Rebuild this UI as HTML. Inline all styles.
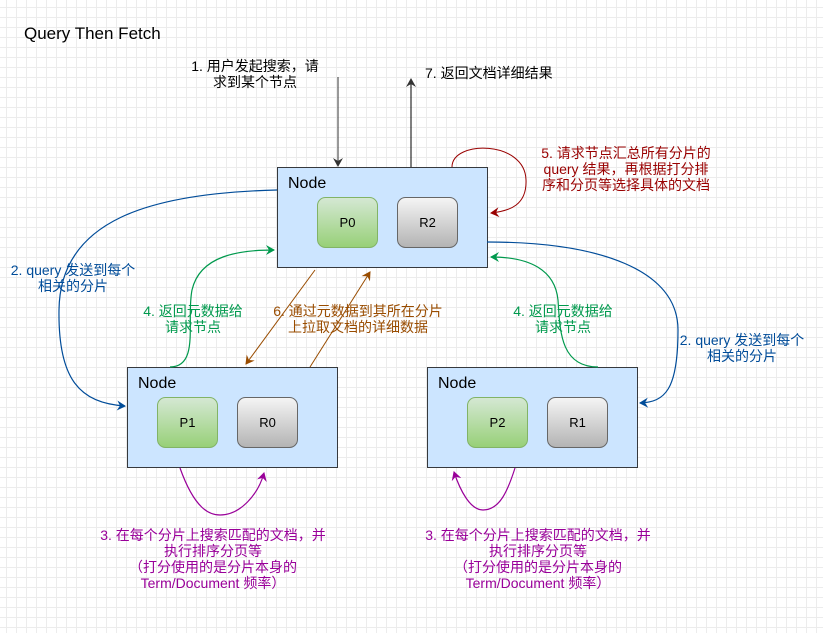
<!DOCTYPE html>
<html><head><meta charset="utf-8"><style>
body{margin:0;width:823px;height:633px;overflow:hidden;background:#fff;
background-image:linear-gradient(#ececec 1px,transparent 1px),linear-gradient(90deg,#ececec 1px,transparent 1px);
background-size:10px 10px;background-position:-4px -3px;}
svg{position:absolute;left:0;top:0}
text{font-family:"Liberation Sans","Noto Sans CJK SC",sans-serif;}
</style></head><body>
<svg width="823" height="633" viewBox="0 0 823 633">
<defs>
<linearGradient id="g" x1="0" y1="0" x2="0" y2="1"><stop offset="0" stop-color="#d5e8d4"/><stop offset="1" stop-color="#97d077"/></linearGradient>
<linearGradient id="s" x1="0" y1="0" x2="0" y2="1"><stop offset="0" stop-color="#f5f5f5"/><stop offset="1" stop-color="#b3b3b3"/></linearGradient>
<marker id="ak" markerWidth="10" markerHeight="10" refX="8" refY="5" orient="auto" markerUnits="userSpaceOnUse"><path d="M0,0 L9,5 L0,10 L3,5z" fill="#333"/></marker>
<marker id="ab" markerWidth="10" markerHeight="10" refX="8" refY="5" orient="auto" markerUnits="userSpaceOnUse"><path d="M0,0 L9,5 L0,10 L3,5z" fill="#004c99"/></marker>
<marker id="ag" markerWidth="10" markerHeight="10" refX="8" refY="5" orient="auto" markerUnits="userSpaceOnUse"><path d="M0,0 L9,5 L0,10 L3,5z" fill="#00994d"/></marker>
<marker id="ar" markerWidth="10" markerHeight="10" refX="8" refY="5" orient="auto" markerUnits="userSpaceOnUse"><path d="M0,0 L9,5 L0,10 L3,5z" fill="#990000"/></marker>
<marker id="ao" markerWidth="10" markerHeight="10" refX="8" refY="5" orient="auto" markerUnits="userSpaceOnUse"><path d="M0,0 L9,5 L0,10 L3,5z" fill="#994c00"/></marker>
<marker id="ap" markerWidth="10" markerHeight="10" refX="8" refY="5" orient="auto" markerUnits="userSpaceOnUse"><path d="M0,0 L9,5 L0,10 L3,5z" fill="#990099"/></marker>
</defs>
<text x="24" y="39" font-size="17" fill="#000">Query Then Fetch</text>

<rect x="277.5" y="167.5" width="210" height="100" fill="#cce5ff" stroke="#36393d"/>
<text x="288" y="188" font-size="16">Node</text>
<rect x="317.5" y="197.5" width="60" height="50" rx="8" fill="url(#g)" stroke="#82b366"/>
<text x="347.5" y="227" font-size="13" text-anchor="middle">P0</text>
<rect x="397.5" y="197.5" width="60" height="50" rx="8" fill="url(#s)" stroke="#666"/>
<text x="427.5" y="227" font-size="13" text-anchor="middle">R2</text>

<rect x="127.5" y="367.5" width="210" height="100" fill="#cce5ff" stroke="#36393d"/>
<text x="138" y="388" font-size="16">Node</text>
<rect x="157.5" y="397.5" width="60" height="50" rx="8" fill="url(#g)" stroke="#82b366"/>
<text x="187.5" y="427" font-size="13" text-anchor="middle">P1</text>
<rect x="237.5" y="397.5" width="60" height="50" rx="8" fill="url(#s)" stroke="#666"/>
<text x="267.5" y="427" font-size="13" text-anchor="middle">R0</text>

<rect x="427.5" y="367.5" width="210" height="100" fill="#cce5ff" stroke="#36393d"/>
<text x="438" y="388" font-size="16">Node</text>
<rect x="467.5" y="397.5" width="60" height="50" rx="8" fill="url(#g)" stroke="#82b366"/>
<text x="497.5" y="427" font-size="13" text-anchor="middle">P2</text>
<rect x="547.5" y="397.5" width="60" height="50" rx="8" fill="url(#s)" stroke="#666"/>
<text x="577.5" y="427" font-size="13" text-anchor="middle">R1</text>

<line x1="338" y1="77" x2="338" y2="166" stroke="#333" marker-end="url(#ak)"/>
<line x1="411" y1="167" x2="411" y2="79" stroke="#000" marker-end="url(#ak)"/>
<text font-size="14" text-anchor="middle" fill="#000"><tspan x="255" y="71">1. 用户发起搜索，请</tspan><tspan x="255" y="87">求到某个节点</tspan></text>
<text x="425" y="78" font-size="14">7. 返回文档详细结果</text>

<path d="M452,167 C452,140 525,140 526,180 C527,205 510,211 491,213" fill="none" stroke="#990000" marker-end="url(#ar)"/>
<text font-size="14" fill="#990000" text-anchor="middle"><tspan x="626" y="158">5. 请求节点汇总所有分片的</tspan><tspan x="626" y="174">query 结果，再根据打分排</tspan><tspan x="626" y="190">序和分页等选择具体的文档</tspan></text>

<path d="M277,190 C150,193 60,220 59,310 C58,380 80,403 125,406" fill="none" stroke="#004c99" stroke-width="1.2" marker-end="url(#ab)"/>
<text font-size="14" fill="#004c99" text-anchor="middle"><tspan x="73" y="275">2. query 发送到每个</tspan><tspan x="73" y="291">相关的分片</tspan></text>
<path d="M487,242 C600,242 678,270 678,330 C678,390 665,402 640,403" fill="none" stroke="#004c99" stroke-width="1.2" marker-end="url(#ab)"/>
<text font-size="14" fill="#004c99" text-anchor="middle"><tspan x="742" y="345">2. query 发送到每个</tspan><tspan x="742" y="361">相关的分片</tspan></text>

<path d="M170,367 C200,367 186,320 192,290 C200,255 240,250 274,250" fill="none" stroke="#00994d" stroke-width="1.2" marker-end="url(#ag)"/>
<text font-size="14" fill="#00994d" text-anchor="middle"><tspan x="193" y="316">4. 返回元数据给</tspan><tspan x="193" y="332">请求节点</tspan></text>
<path d="M598,367 C560,367 560,330 558,300 C555,270 530,257 491,257" fill="none" stroke="#00994d" stroke-width="1.2" marker-end="url(#ag)"/>
<text font-size="14" fill="#00994d" text-anchor="middle"><tspan x="563" y="316">4. 返回元数据给</tspan><tspan x="563" y="332">请求节点</tspan></text>

<line x1="315" y1="270" x2="246" y2="364" stroke="#994c00" marker-end="url(#ao)"/>
<line x1="310" y1="367" x2="370" y2="272" stroke="#994c00" marker-end="url(#ao)"/>
<text font-size="14" fill="#994c00" text-anchor="middle"><tspan x="358" y="316">6. 通过元数据到其所在分片</tspan><tspan x="358" y="332">上拉取文档的详细数据</tspan></text>

<path d="M180,468 C195,510 210,515 220,515 C240,515 258,495 264,473" fill="none" stroke="#990099" stroke-width="1.2" marker-end="url(#ap)"/>
<path d="M515,468 C508,490 500,510 483,510 C470,510 460,490 454,472" fill="none" stroke="#990099" stroke-width="1.2" marker-end="url(#ap)"/>
<text font-size="14" fill="#990099" text-anchor="middle"><tspan x="213" y="540">3. 在每个分片上搜索匹配的文档，并</tspan><tspan x="213" y="556">执行排序分页等</tspan><tspan x="213" y="572">（打分使用的是分片本身的</tspan><tspan x="213" y="588">Term/Document 频率）</tspan></text>
<text font-size="14" fill="#990099" text-anchor="middle"><tspan x="538" y="540">3. 在每个分片上搜索匹配的文档，并</tspan><tspan x="538" y="556">执行排序分页等</tspan><tspan x="538" y="572">（打分使用的是分片本身的</tspan><tspan x="538" y="588">Term/Document 频率）</tspan></text>
</svg>
</body></html>
